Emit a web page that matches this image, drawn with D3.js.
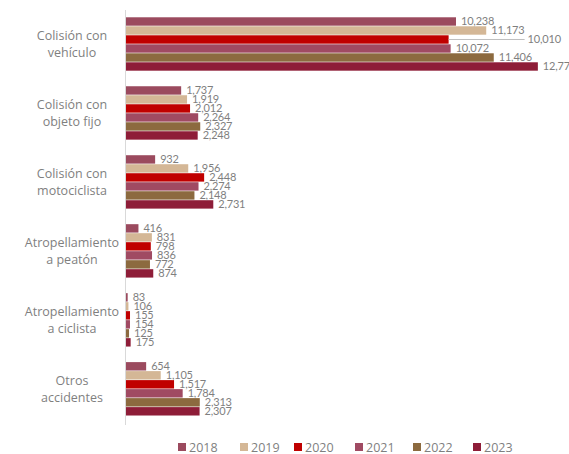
<!DOCTYPE html>
<html><head><meta charset="utf-8">
<script src="https://cdn.jsdelivr.net/npm/d3@7"></script>
<style>body{margin:0;background:#fff}svg{display:block}</style>
</head><body>
<script>
const categories = [["Colisión con","vehículo"],["Colisión con","objeto fijo"],["Colisión con","motociclista"],["Atropellamiento","a peatón"],["Atropellamiento","a ciclista"],["Otros","accidentes"]];
const years = ["2018","2019","2020","2021","2022","2023"];
const v2018 = [10238,1737,932,416,83,654];
const v2019 = [11173,1919,1956,831,106,1105];
const v2020 = [10010,2012,2448,798,155,1517];
const v2021 = [10072,2264,2274,836,154,1784];
const v2022 = [11406,2327,2148,772,125,2313];
const v2023 = [12770,2248,2731,874,175,2307];
const labels2023 = ["12,77","2,248","2,731","874","175","2,307"];
const colors = ["#9B4A5E","#D4B796","#C00000","#A04A62","#8C6A3F","#8E1D38"];
const series = [v2018,v2019,v2020,v2021,v2022,v2023];

const W=569,H=454;
const svg=d3.select("body").append("svg").attr("width",W).attr("height",H);
const x=d3.scaleLinear().domain([0,14000]).range([125,125+0.03233*14000]);
const y0=d3.scaleBand().domain(d3.range(categories.length)).range([9.4,423.4]).paddingInner(0.217).paddingOuter(0.11);
const y1=d3.scaleBand().domain(years).range([0,y0.bandwidth()]);
const fmt=d3.format(",");

const g=svg.append("g");
categories.forEach((c,i)=>{
  const gy=y0(i);
  years.forEach((yr,j)=>{
    const v=series[j][i];
    g.append("rect").attr("x",x(0)).attr("y",gy+y1(yr)+0.3).attr("width",x(v)-x(0)).attr("height",y1.bandwidth()-0.6).attr("fill",colors[j]);
  });
  years.forEach((yr,j)=>{
    const v=series[j][i];
    const txt = j===5 ? labels2023[i] : fmt(v);
    let lx=x(v)+5;
    const ly=gy+y1(yr)+y1.bandwidth()/2+4;
    if(i===0 && j===2){
      lx=x(v)+79;
      g.append("line").attr("x1",x(v)).attr("x2",lx-3).attr("y1",ly-4).attr("y2",ly-4).attr("stroke","#bfbfbf").attr("stroke-width",1);
    }
    g.append("text").attr("x",lx).attr("y",ly).attr("font-family","Lato, 'Open Sans', sans-serif").attr("font-size",11).attr("letter-spacing","-0.2").attr("fill","#7f7f7f").text(txt);
  });
  const cy=gy+y0.bandwidth()/2;
  g.append("text").attr("x",72).attr("y",cy-4).attr("text-anchor","middle").attr("font-family","'Open Sans', Lato, sans-serif").attr("font-size",12.5).attr("fill","#7f7f7f").text(c[0]);
  g.append("text").attr("x",72).attr("y",cy+13).attr("text-anchor","middle").attr("font-family","'Open Sans', Lato, sans-serif").attr("font-size",12.5).attr("fill","#7f7f7f").text(c[1]);
});
svg.append("line").attr("x1",125.5).attr("x2",125.5).attr("y1",10).attr("y2",425).attr("stroke","#d9d9d9").attr("stroke-width",1);

const legX=[178,240,294,355,413,473];
const leg=svg.append("g");
years.forEach((yr,j)=>{
  leg.append("rect").attr("x",legX[j]).attr("y",443).attr("width",8).attr("height",8).attr("fill",colors[j]);
  leg.append("text").attr("x",legX[j]+11).attr("y",451.5).attr("font-family","'Open Sans', Lato, sans-serif").attr("font-size",12.5).attr("fill","#7f7f7f").text(yr);
});
</script>
</body></html>
